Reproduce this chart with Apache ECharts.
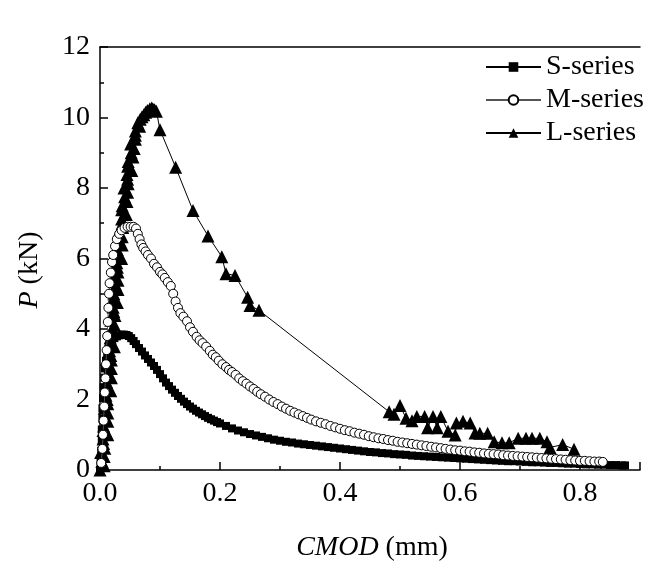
<!DOCTYPE html>
<html>
<head>
<meta charset="utf-8">
<script src="https://cdn.jsdelivr.net/npm/echarts@6/dist/echarts.min.js"></script>
<style>
html,body{margin:0;padding:0;background:#fff;}
#c{width:651px;height:565px;}
</style>
</head>
<body>
<div id="c"></div>
<script>
// ---------- data (CMOD in mm, P in kN) ----------
const seriesNames = ['S-series', 'M-series', 'L-series'];

const sX = [0.000,0.001,0.002,0.003,0.003,0.004,0.004,0.005,0.006,0.007,0.008,0.010,0.012,0.014,0.017,0.020,0.024,0.028,0.032,0.036,0.040,0.044,0.048,
  0.052,0.056,0.060,0.065,0.070,0.075,0.080,0.085,0.090,0.095,0.100,0.105,0.110,0.115,0.120,0.125,0.130,0.135,0.140,0.145,0.150,0.155,0.160,0.165,0.170,0.175,0.180,0.185,0.190,0.195,0.200,
  0.21,0.22,0.23,0.24,0.25,0.26,0.27,0.28,0.29,0.30,0.31,0.32,0.33,0.34,0.35,0.36,0.37,0.38,0.39,0.40,0.41,0.42,0.43,0.44,0.45,0.46,0.47,0.48,0.49,0.50,
  0.51,0.52,0.53,0.54,0.55,0.56,0.57,0.58,0.59,0.60,0.61,0.62,0.63,0.64,0.65,0.66,0.67,0.68,0.69,0.70,0.71,0.72,0.73,0.74,0.75,0.76,0.77,0.78,0.79,0.80,
  0.81,0.82,0.83,0.84,0.85,0.86,0.87,0.875];
const sP = [0.00,0.25,0.55,0.85,1.15,1.45,1.75,2.05,2.35,2.62,2.88,3.10,3.30,3.45,3.58,3.67,3.74,3.79,3.82,3.84,3.84,3.83,3.80,
  3.74,3.66,3.57,3.46,3.36,3.25,3.15,3.05,2.95,2.84,2.72,2.60,2.48,2.38,2.28,2.19,2.10,2.02,1.94,1.87,1.80,1.74,1.68,1.63,1.58,1.53,1.48,1.44,1.40,1.36,1.32,
  1.25,1.18,1.12,1.07,1.02,0.98,0.94,0.90,0.86,0.83,0.80,0.78,0.75,0.73,0.71,0.69,0.67,0.65,0.63,0.61,0.59,0.57,0.55,0.53,0.51,0.50,0.48,0.47,0.45,0.44,
  0.43,0.41,0.40,0.39,0.38,0.37,0.36,0.35,0.34,0.33,0.32,0.31,0.30,0.29,0.28,0.27,0.26,0.25,0.25,0.24,0.23,0.22,0.22,0.21,0.20,0.20,0.19,0.18,0.18,0.17,
  0.16,0.16,0.15,0.15,0.14,0.14,0.13,0.13];

const mX = [0.002,0.004,0.005,0.006,0.007,0.008,0.009,0.010,0.011,0.012,0.013,0.014,0.015,0.016,0.018,0.020,0.022,0.025,0.028,0.032,0.036,0.041,0.046,0.051,0.056,0.060,
  0.063,0.066,0.069,0.072,0.076,0.080,0.085,0.090,0.095,0.100,0.104,0.108,0.113,0.118,0.122,0.126,0.130,0.134,0.139,0.145,0.150,0.155,0.161,0.166,0.171,0.177,0.183,0.188,0.193,0.198,
  0.204,0.210,0.215,0.220,0.226,0.232,0.238,0.244,0.250,0.256,0.262,0.268,0.275,0.282,0.289,0.296,0.303,0.310,0.317,0.324,0.331,0.338,0.345,0.352,0.360,0.368,0.376,0.384,0.392,0.400,
  0.408,0.416,0.424,0.432,0.440,0.448,0.456,0.464,0.472,0.480,0.488,0.496,0.504,0.512,0.520,0.528,0.536,0.544,0.552,0.560,0.568,0.576,0.584,0.592,0.600,
  0.608,0.616,0.624,0.632,0.640,0.648,0.656,0.664,0.672,0.680,0.688,0.696,0.704,0.712,0.720,0.728,0.736,0.744,0.752,0.760,0.768,0.776,0.784,0.792,0.800,0.808,0.816,0.824,0.832,0.838];
const mP = [0.2,0.6,1.0,1.4,1.8,2.2,2.6,3.0,3.4,3.8,4.2,4.6,5.0,5.3,5.6,5.9,6.1,6.35,6.55,6.7,6.8,6.87,6.9,6.9,6.9,6.85,
  6.7,6.55,6.4,6.3,6.2,6.1,6.0,5.85,5.75,5.62,5.55,5.45,5.33,5.22,5.0,4.78,4.6,4.45,4.35,4.22,4.05,3.92,3.78,3.68,3.6,3.5,3.38,3.27,3.2,3.1,
  3.0,2.92,2.84,2.78,2.7,2.6,2.52,2.45,2.37,2.3,2.22,2.15,2.08,2.0,1.93,1.87,1.8,1.74,1.68,1.63,1.58,1.53,1.48,1.43,1.38,1.34,1.3,1.25,1.21,1.17,
  1.13,1.1,1.06,1.03,1.0,0.96,0.93,0.9,0.88,0.85,0.83,0.8,0.78,0.76,0.74,0.72,0.7,0.68,0.66,0.64,0.62,0.6,0.58,0.56,0.55,
  0.53,0.52,0.5,0.49,0.47,0.46,0.45,0.44,0.42,0.41,0.4,0.39,0.38,0.37,0.36,0.35,0.34,0.33,0.32,0.31,0.3,0.29,0.28,0.27,0.26,0.26,0.25,0.24,0.24,0.23];

const lX = [0.000,0.007,0.003,0.007,0.001,0.008,0.006,0.005,0.013,0.005,0.006,0.013,0.009,0.013,0.007,0.013,0.012,0.010,0.018,0.010,
  0.011,0.019,0.014,0.019,0.013,0.019,0.018,0.016,0.024,0.016,0.017,0.024,0.020,0.024,0.018,0.025,0.023,0.022,0.029,0.022,
  0.023,0.030,0.026,0.030,0.024,0.030,0.029,0.028,0.036,0.028,0.029,0.037,0.033,0.037,0.031,0.038,0.037,0.036,0.044,0.036,
  0.037,0.045,0.041,0.046,0.040,0.047,0.046,0.045,0.053,0.046,0.047,0.055,0.052,0.057,0.051,0.059,0.059,0.059,0.066,0.063,
  0.067,0.070,0.073,0.076,0.079,0.083,0.086,0.088,0.091,0.094,
  0.100,0.126,0.155,0.180,0.203,0.210,0.225,0.246,0.250,0.265,
  0.482,0.490,0.500,0.510,0.520,0.528,0.541,0.546,0.555,0.562,0.568,0.580,0.592,0.594,0.605,0.617,0.625,0.633,0.646,0.657,0.670,0.682,0.697,0.710,0.720,0.733,0.745,0.750,0.771,0.790];
const lP = [0.00,0.12,0.25,0.38,0.50,0.62,0.75,0.88,1.00,1.12,1.25,1.38,1.50,1.62,1.75,1.88,2.00,2.12,2.25,2.38,
  2.50,2.62,2.75,2.88,3.00,3.12,3.25,3.38,3.50,3.62,3.75,3.88,4.00,4.12,4.25,4.38,4.50,4.62,4.75,4.88,
  5.00,5.12,5.25,5.38,5.50,5.62,5.75,5.88,6.00,6.12,6.25,6.38,6.50,6.62,6.75,6.88,7.00,7.12,7.25,7.38,
  7.50,7.62,7.75,7.88,8.00,8.12,8.25,8.38,8.50,8.62,8.75,8.88,9.00,9.12,9.25,9.38,9.50,9.62,9.75,9.85,
  9.95,10.02,10.08,10.15,10.20,10.25,10.27,10.25,10.22,10.18,
  9.65,8.59,7.36,6.64,6.05,5.57,5.52,4.9,4.67,4.53,
  1.65,1.58,1.83,1.47,1.40,1.52,1.52,1.20,1.52,1.20,1.52,1.10,0.99,1.33,1.38,1.33,1.05,1.04,1.04,0.80,0.77,0.77,0.90,0.90,0.90,0.90,0.80,0.64,0.72,0.59];

const xRange = {min: 0, max: 0.9, major: 0.2, minor: 0.1};
const yRange = {min: 0, max: 12, major: 2};

// ---------- chart ----------
const FONT = 'Liberation Serif, Times New Roman, serif';
const zip = (a, b) => a.map((v, i) => [v, b[i]]);
const chart = echarts.init(document.getElementById('c'), null, {renderer: 'canvas'});
const axLine = {show: true, onZero: false, lineStyle: {color: '#000', width: 1.5}};
const tickLine = {color: '#000', width: 1.5};
chart.setOption({
  animation: false,
  backgroundColor: '#fff',
  grid: {left: 100, top: 47, bottom: 95, right: 11, containLabel: false},
  legend: {
    data: seriesNames, orient: 'vertical', left: 480, top: 48,
    itemWidth: 55, itemHeight: 12, itemGap: 5,
    textStyle: {fontFamily: FONT, fontSize: 28, color: '#000', lineHeight: 28}
  },
  xAxis: [{
    // minor ticks + labels
    type: 'value', position: 'bottom', min: xRange.min, max: xRange.max, interval: xRange.minor,
    axisLine: axLine,
    axisTick: {show: true, inside: true, length: 4, lineStyle: tickLine},
    splitLine: {show: false},
    axisLabel: {color: '#000', fontFamily: FONT, fontSize: 28, margin: 10,
      formatter: v => (Math.round(v * 10) % 2 === 0 ? v.toFixed(1) : '')}
  }, {
    // major ticks
    type: 'value', position: 'bottom', min: xRange.min, max: xRange.max, interval: xRange.major,
    axisLine: {show: false},
    axisTick: {show: true, inside: true, length: 8, lineStyle: tickLine},
    axisLabel: {show: false}, splitLine: {show: false}
  }, {
    type: 'value', position: 'top', min: xRange.min, max: xRange.max,
    axisLine: axLine, axisTick: {show: false}, axisLabel: {show: false}, splitLine: {show: false}
  }],
  yAxis: {
    type: 'value', min: yRange.min, max: yRange.max, interval: yRange.major,
    axisLine: axLine,
    axisTick: {show: true, inside: true, length: 8, lineStyle: tickLine},
    minorTick: {show: true, splitNumber: 2, length: 4, lineStyle: tickLine},
    splitLine: {show: false},
    axisLabel: {color: '#000', fontFamily: FONT, fontSize: 28, margin: 10}
  },
  graphic: [{
    type: 'text', x: 372, y: 548,
    style: {text: '{i|CMOD} (mm)', fill: '#000', font: '28px ' + FONT, textAlign: 'center', textVerticalAlign: 'middle',
      rich: {i: {fontStyle: 'italic', fontFamily: FONT, fontSize: 28}}}
  }, {
    type: 'text', x: 30, y: 270, rotation: Math.PI / 2,
    style: {text: '{i|P} (kN)', fill: '#000', font: '28px ' + FONT, textAlign: 'center', textVerticalAlign: 'middle',
      rich: {i: {fontStyle: 'italic', fontFamily: FONT, fontSize: 28}}}
  }],
  series: [{
    name: seriesNames[0], type: 'line', data: zip(sX, sP), z: 2,
    symbol: 'rect', symbolSize: 8, showSymbol: true,
    itemStyle: {color: '#000'}, lineStyle: {color: '#000', width: 1}
  }, {
    name: seriesNames[1], type: 'line', data: zip(mX, mP), z: 4,
    symbol: 'circle', symbolSize: 9, showSymbol: true,
    itemStyle: {color: '#fff', borderColor: '#000', borderWidth: 1}, lineStyle: {color: '#555', width: 1}
  }, {
    name: seriesNames[2], type: 'line', data: zip(lX, lP), z: 3,
    symbol: 'triangle', symbolSize: 13, showSymbol: true,
    itemStyle: {color: '#000'}, lineStyle: {color: '#000', width: 1}
  }]
});
</script>
</body>
</html>
